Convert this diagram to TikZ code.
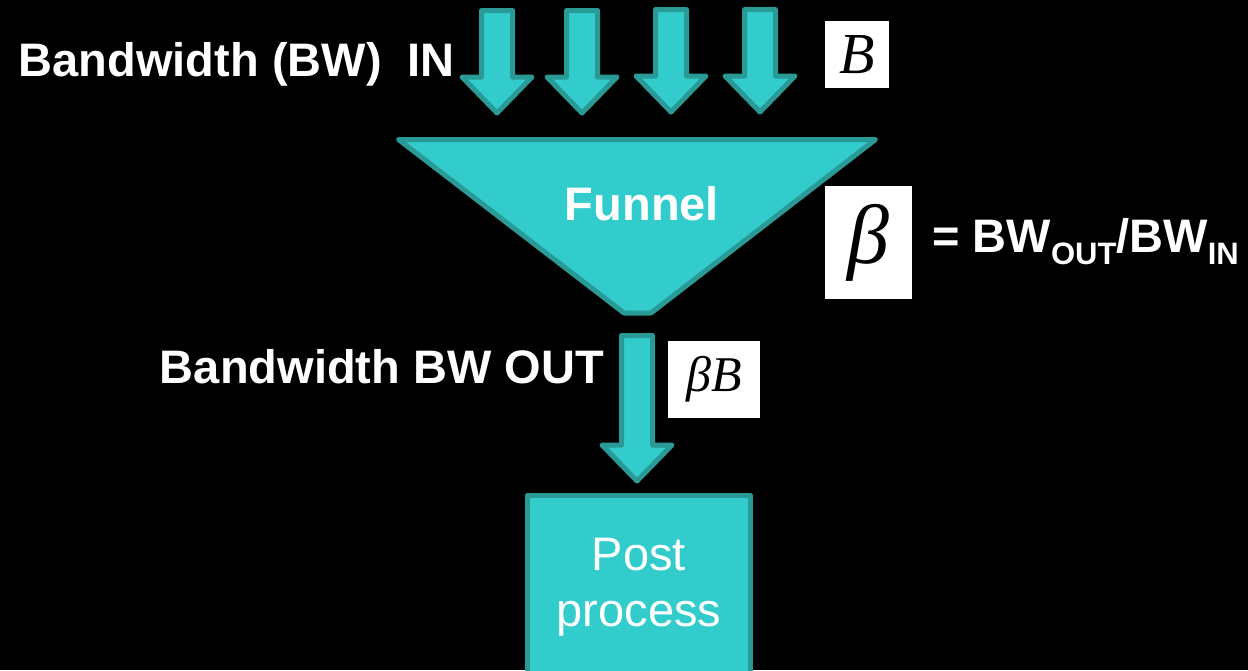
\documentclass[tikz,border=0pt]{standalone}
\usepackage{fontspec}
\setmainfont{Liberation Sans}
\newfontfamily\timesfont{Liberation Serif}
\usetikzlibrary{shapes,arrows,calc,fit}

\definecolor{tealfill}{HTML}{33CCCC}
\definecolor{tealedge}{HTML}{2A9A96}
\tikzset{
	tealshape/.style={fill=tealfill, draw=tealedge, line width=5pt, line join=round},
	boldlabel/.style={text=white, inner sep=0pt, font=\fontsize{47}{56}\selectfont\bfseries},
	mathbox/.style={fill=white, inner sep=0pt, text=black}
}
\newcommand{\flowarrow}[3]{%
	\draw[tealshape] (#1-15.5,#2+2.5) -- (#1+15.5,#2+2.5) -- (#1+15.5,#3-38) -- (#1+35,#3-38)
		-- (#1,#3-2) -- (#1-35,#3-38) -- (#1-15.5,#3-38) -- cycle;}
\newcommand{\subtext}[1]{\raisebox{-12pt}{\fontsize{31}{31}\selectfont #1}}

\begin{document}
\begin{tikzpicture}[x=1pt, y=-1pt]
	\clip (0,0) rectangle (1248,670);
	\fill[black] (0,0) rectangle (1248,670);
	% bandwidth in
	\flowarrow{497}{8}{115}
	\flowarrow{582}{8}{115}
	\flowarrow{671}{7}{114}
	\flowarrow{760}{7}{114}
	\node[boldlabel, anchor=base east] (bwin) at (455,76) {Bandwidth (BW)\ \ IN};
	\node[mathbox, minimum width=64pt, minimum height=67pt, font=\timesfont\itshape\fontsize{58}{58}\selectfont] (bsym) at (857,54.5) {B};
	% funnel
	\draw[tealshape] (398.5,139.5) -- (875.5,139.5) -- (651,313) -- (624,313) -- cycle;
	\node[boldlabel, anchor=base] (funnel) at (642,220) {Funnel};
	\node[mathbox, minimum width=87pt, minimum height=113pt, font=\timesfont\itshape\fontsize{84}{84}\selectfont] (betasym) at (868.5,242.5) {β};
	\node[boldlabel, anchor=base west] (ratio) at (932,252) {= BW\subtext{OUT}/BW\subtext{IN}};
	% bandwidth out
	\flowarrow{637}{333}{483}
	\node[boldlabel, anchor=base east] (bwout) at (604,383) {Bandwidth BW OUT};
	\node[mathbox, minimum width=92pt, minimum height=77pt, font=\timesfont\itshape\fontsize{50}{50}\selectfont] (betab) at (714,379.5) {βB};
	% post process
	\draw[tealshape] (527.5,495.5) rectangle (750.5,700);
	\node[text=white, align=center, font=\fontsize{47}{56}\selectfont] (post) at (639,587) {Post\\process};
\end{tikzpicture}
\end{document}
